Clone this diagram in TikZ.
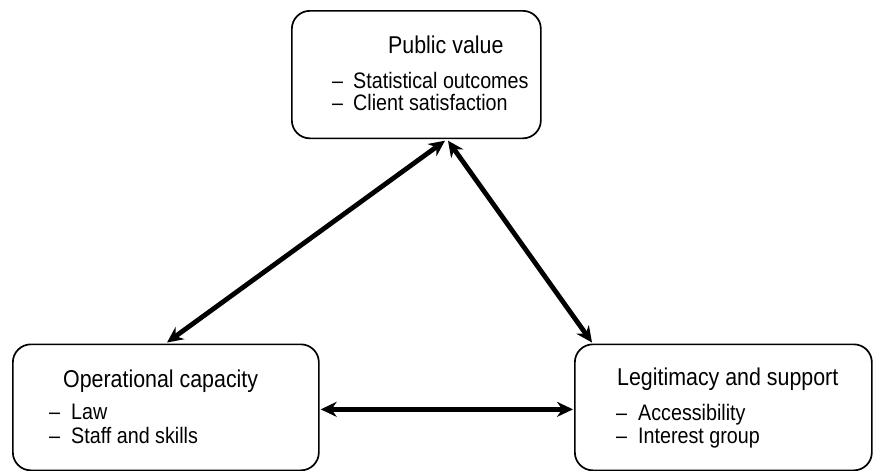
\documentclass[tikz,border=0pt]{standalone}
\usepackage{fontspec}
\setmainfont[FakeStretch=0.88]{Liberation Sans}
\usetikzlibrary{arrows.meta,calc}
\begin{document}
\begin{tikzpicture}[x=1pt,y=-1pt,
  box/.style={draw,line width=1.7pt,rounded corners=18pt,inner sep=0pt,anchor=north west},
  ttl/.style={anchor=base west,inner sep=0pt,font=\fontsize{24.3}{28}\selectfont},
  itm/.style={anchor=base west,inner sep=0pt,font=\fontsize{22.4}{26}\selectfont},
  dsh/.style={anchor=base west,inner sep=0pt,font=\fontsize{22.4}{26}\selectfont},
  link/.style={line width=4.8pt,{Stealth[length=16pt,width=15pt]}-{Stealth[length=16pt,width=15pt]}}]
\useasboundingbox (0,0) rectangle (873,471);
% boxes
\node[box,minimum width=249pt,minimum height=127.5pt] (pv) at (291,10) {};
\node[box,minimum width=306pt,minimum height=126pt] (oc) at (12,343.5) {};
\node[box,minimum width=297pt,minimum height=126pt] (ls) at (574,343.5) {};
% texts: public value
\node[ttl] (pvt) at (388,53) {Public value};
\node[dsh] (pvd1) at (332,88) {–};
\node[itm] (pv1) at (353,88) {Statistical outcomes};
\node[dsh] (pvd2) at (332,110) {–};
\node[itm] (pv2) at (353,110) {Client satisfaction};
% operational capacity
\node[ttl] (oct) at (63,387) {Operational capacity};
\node[dsh] (ocd1) at (49,419) {–};
\node[itm] (oc1) at (71,419) {Law};
\node[dsh] (ocd2) at (49,443) {–};
\node[itm] (oc2) at (71,443) {Staff and skills};
% legitimacy and support
\node[ttl] (lst) at (617,385) {Legitimacy and support};
\node[dsh] (lsd1) at (616,420) {–};
\node[itm] (ls1) at (638,420) {Accessibility};
\node[dsh] (lsd2) at (616,443) {–};
\node[itm] (ls2) at (638,443) {Interest group};
% connector end points on the boxes
\coordinate (pvL) at ($(pv.south west)+(154,1.5)$);
\coordinate (pvR) at ($(pv.south west)+(157,1.5)$);
\coordinate (ocT) at ($(oc.north west)+(155,-1)$);
\coordinate (lsT) at ($(ls.north west)+(18,-1)$);
% connectors
\draw[link] (ocT) -- (pvL);
\draw[link] (pvR) -- (lsT);
\draw[link] ($(oc.east)+(1,2)$) -- ($(ls.west)+(-1,2)$);
\end{tikzpicture}
\end{document}
